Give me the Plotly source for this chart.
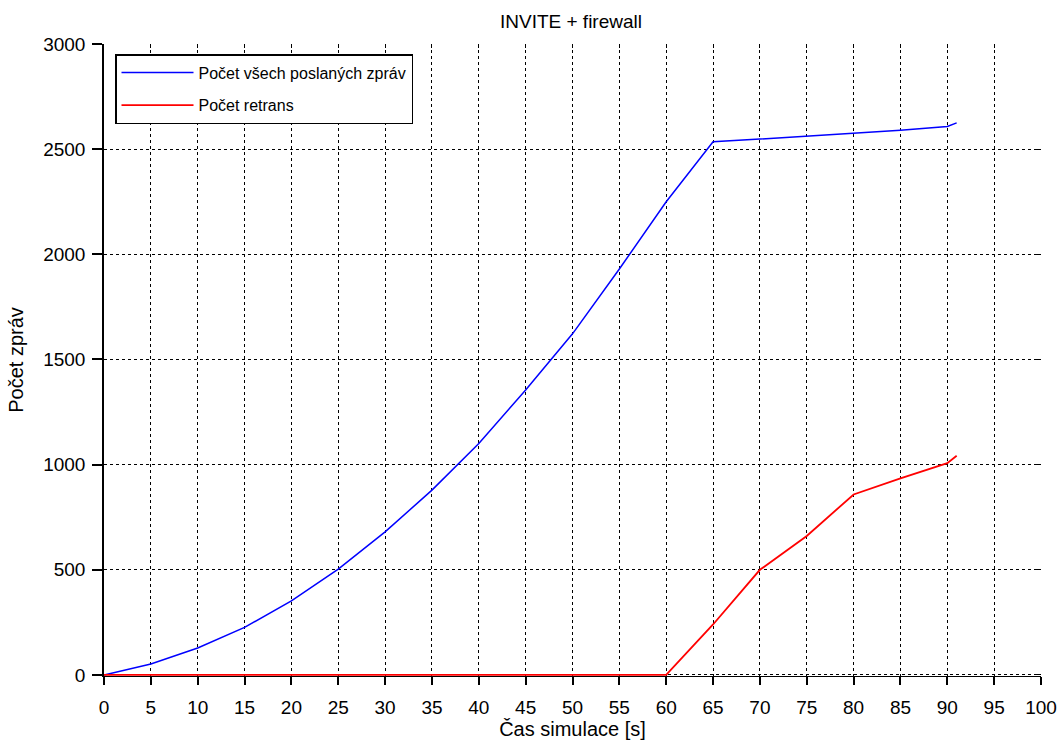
import plotly.graph_objects as go

time_s = [0, 5, 10, 15, 20, 25, 30, 35, 40, 45, 50, 55, 60, 65, 70, 75, 80, 85, 90, 91]
all_msgs = [0, 52, 128, 226, 352, 503, 680, 879, 1100, 1355, 1622, 1930, 2250, 2535, 2548, 2562, 2576, 2590, 2608, 2625]
retrans = [0, 0, 0, 0, 0, 0, 0, 0, 0, 0, 0, 0, 0, 240, 500, 661, 858, 935, 1007, 1042]

x_ticks = list(range(0, 101, 5))
y_ticks = [0, 500, 1000, 1500, 2000, 2500, 3000]
x_range = [0, 100]
y_range = [-5, 3000]

font_family = "Liberation Sans, Arial, sans-serif"

fig = go.Figure()
fig.add_trace(go.Scatter(x=time_s, y=all_msgs, mode="lines", name="Počet všech poslaných zpráv",
                         line=dict(color="#0000ff", width=1.5), cliponaxis=False, legendgroup="a"))
fig.add_trace(go.Scatter(x=time_s, y=retrans, mode="lines", name="Počet retrans",
                         line=dict(color="#ff0000", width=1.8), cliponaxis=False, legendgroup="b"))
# carrier for the mirrored (inside) tick axes on top and right; draws nothing
fig.add_trace(go.Scatter(x=time_s, y=all_msgs, mode="none", xaxis="x2", yaxis="y2",
                         showlegend=False, hoverinfo="skip"))

axis_common = dict(
    showgrid=True, gridcolor="black", griddash="dot", gridwidth=1,
    showline=True, linecolor="black",
    ticks="outside", tickcolor="black", tickwidth=1.5,
    zeroline=False, automargin=False, layer="below traces",
    tickfont=dict(family=font_family, size=19, color="black"),
)

mirror_common = dict(
    showgrid=False, showline=False, zeroline=False, showticklabels=False,
    ticks="inside", ticklen=4, tickcolor="black", tickwidth=1, automargin=False,
)

fig.update_layout(
    width=1059, height=740,
    margin=dict(l=104, r=18, t=44, b=64),
    paper_bgcolor="white", plot_bgcolor="white",
    title=dict(text="INVITE + firewall", x=571 / 1059, xanchor="center",
               y=1 - 21 / 740, yanchor="middle",
               font=dict(family=font_family, size=19, color="black")),
    xaxis=dict(axis_common, range=x_range, tickvals=x_ticks, ticklen=8, ticklabelstandoff=6,
               linewidth=1.2,
               title=dict(text="Čas simulace [s]", standoff=4,
                          font=dict(family=font_family, size=20, color="black"))),
    yaxis=dict(axis_common, range=y_range, tickvals=y_ticks, ticklen=10, ticklabelstandoff=3,
               linewidth=1.5,
               title=dict(text="Počet zpráv", standoff=14,
                          font=dict(family=font_family, size=20, color="black"))),
    xaxis2=dict(mirror_common, range=x_range, tickvals=x_ticks, overlaying="x", side="top",
                anchor="y2"),
    yaxis2=dict(mirror_common, range=y_range, tickvals=y_ticks, overlaying="y", side="right",
                anchor="x2"),
    legend=dict(x=(115 - 104) / 937, y=1 - (54 - 44) / 632, xanchor="left", yanchor="top",
                bgcolor="white", bordercolor="black", borderwidth=1.5,
                font=dict(family=font_family, size=16, color="black"),
                itemwidth=72, tracegroupgap=9, traceorder="grouped"),
    showlegend=True,
)

fig.write_html("out.html")
